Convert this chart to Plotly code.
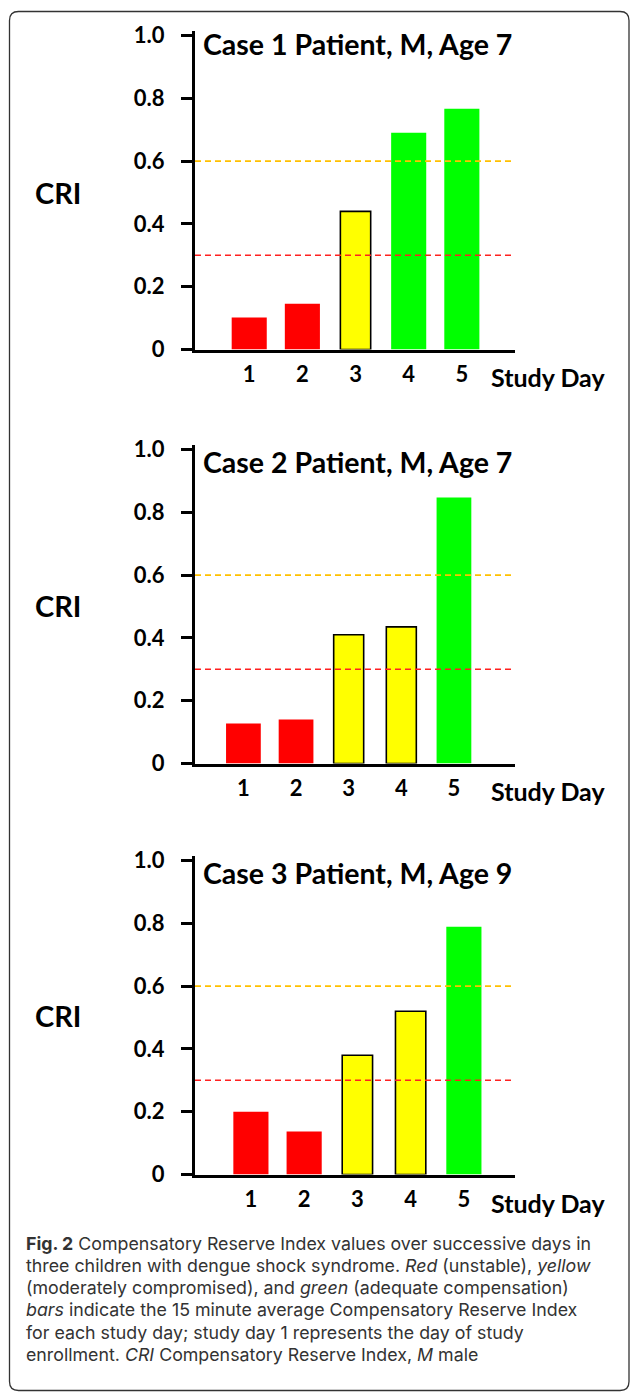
import plotly.graph_objects as go

# ---- data ----
days = [1, 2, 3, 4, 5]
case_titles = ["Case 1 Patient, M, Age 7", "Case 2 Patient, M, Age 7", "Case 3 Patient, M, Age 9"]
case1_cri = [0.102, 0.146, 0.44, 0.69, 0.767]
case2_cri = [0.127, 0.14, 0.41, 0.435, 0.847]
case3_cri = [0.20, 0.137, 0.38, 0.52, 0.789]
red_threshold = 0.3
yellow_threshold = 0.6
y_ticks = [0, 0.2, 0.4, 0.6, 0.8, 1.0]
y_tick_text = ["0", "0.2", "0.4", "0.6", "0.8", "1.0"]

caption_lines = [
    "<b>Fig. 2</b> Compensatory Reserve Index values over successive days in",
    "three children with dengue shock syndrome. <i>Red</i> (unstable), <i>yellow</i>",
    "(moderately compromised), and <i>green</i> (adequate compensation)",
    "<i>bars</i> indicate the 15 minute average Compensatory Reserve Index",
    "for each study day; study day 1 represents the day of study",
    "enrollment. <i>CRI</i> Compensatory Reserve Index, <i>M</i> male",
]

W, H = 630, 1393
def px(x):
    return x / W
def py(y):
    return 1 - y / H

RED, YELLOW, GREEN = "#FF0000", "#FFFF00", "#00FF00"

def color_for(v):
    if v < red_threshold:
        return RED
    if v < yellow_threshold:
        return YELLOW
    return GREEN

fig = go.Figure()

panels = [
    dict(vals=case1_cri, zero=349.5, xr=[-0.02, 6.0], title=case_titles[0], title_y=44, cri_y=193, sd_y=377),
    dict(vals=case2_cri, zero=763.5, xr=[0.08, 6.16], title=case_titles[1], title_y=462, cri_y=605, sd_y=791),
    dict(vals=case3_cri, zero=1174.5, xr=[-0.05, 5.96], title=case_titles[2], title_y=873, cri_y=1015, sd_y=1203),
]

UNIT = 314.0
YMAX = 1.015
tick_font = dict(family="Lato", size=22, color="black", weight="bold")

for i, p in enumerate(panels):
    n = "" if i == 0 else str(i + 1)
    xa = "x" + n
    ya = "y" + n
    vals = p["vals"]
    colors = [color_for(v) for v in vals]
    widths = [0.57 if c == YELLOW else 0.66 for c in colors]
    lcolors = ["black" if c == YELLOW else c for c in colors]
    lwidths = [1.6 if c == YELLOW else 0 for c in colors]
    fig.add_trace(go.Bar(
        x=days, y=vals, xaxis=xa, yaxis=ya,
        width=widths,
        marker=dict(color=colors, line=dict(color=lcolors, width=lwidths)),
        showlegend=False, hoverinfo="x+y",
    ))
    top = p["zero"] - UNIT * YMAX
    fig.layout["xaxis" + n] = dict(
        domain=[px(195), px(515)], anchor=ya, range=p["xr"],
        tickmode="array", tickvals=days, ticktext=[str(d) for d in days],
        showline=True, linecolor="black", linewidth=3, ticks="",
        showgrid=False, zeroline=False, tickfont=tick_font, ticklabelstandoff=3,
        fixedrange=True, automargin=False,
    )
    fig.layout["yaxis" + n] = dict(
        domain=[py(p["zero"]), py(top)], anchor=xa, range=[0, YMAX],
        tickmode="array", tickvals=y_ticks, ticktext=y_tick_text,
        showline=True, linecolor="black", linewidth=3, ticks="outside",
        ticklen=11, tickwidth=3, tickcolor="black",
        showgrid=False, zeroline=False, tickfont=tick_font, ticklabelstandoff=12,
        fixedrange=True, automargin=False,
    )
    # threshold lines
    for thr, col in [(yellow_threshold, "#FFC000"), (red_threshold, "#FF2020")]:
        fig.add_shape(type="line", xref=xa + " domain", yref=ya,
                      x0=0, x1=1, y0=thr, y1=thr, layer="above",
                      line=dict(color=col, width=1.6, dash="6px,4px"))
    # title
    fig.add_annotation(xref="paper", yref="paper", x=px(201), y=py(p["title_y"]),
                       xanchor="left", yanchor="middle", showarrow=False,
                       text=p["title"], font=dict(family="Lato", size=28.5, color="black", weight="bold"))
    fig.add_annotation(xref="paper", yref="paper", x=px(57.5), y=py(p["cri_y"]),
                       xanchor="center", yanchor="middle", showarrow=False,
                       text="CRI", font=dict(family="Lato", size=29, color="black", weight="bold"))
    fig.add_annotation(xref="paper", yref="paper", x=px(489), y=py(p["sd_y"]),
                       xanchor="left", yanchor="middle", showarrow=False,
                       text="Study Day", font=dict(family="Lato", size=25, color="black", weight="bold"))

# caption
for k, line in enumerate(caption_lines):
    fig.add_annotation(xref="paper", yref="paper", x=px(24), y=py(1243 + k * 22.3),
                       xanchor="left", yanchor="middle", showarrow=False,
                       text=line, font=dict(family="Inter", size=17.8, color="#333333"))

# frame with rounded corners
L, T, R, B, r = 9.5, 11.5, 629, 1390.5, 9
path = (f"M {px(L + r)},{py(T)} L {px(R - r)},{py(T)} Q {px(R)},{py(T)} {px(R)},{py(T + r)} "
        f"L {px(R)},{py(B - r)} Q {px(R)},{py(B)} {px(R - r)},{py(B)} "
        f"L {px(L + r)},{py(B)} Q {px(L)},{py(B)} {px(L)},{py(B - r)} "
        f"L {px(L)},{py(T + r)} Q {px(L)},{py(T)} {px(L + r)},{py(T)} Z")
fig.add_shape(type="path", xref="paper", yref="paper", path=path,
              line=dict(color="#333333", width=1.3), layer="below")

fig.update_layout(
    width=W, height=H, margin=dict(l=0, r=0, t=0, b=0, pad=0, autoexpand=False),
    paper_bgcolor="white", plot_bgcolor="white",
    bargap=0.3,
)

fig.write_html("out.html", config={"displayModeBar": False},
               post_script="document.body.style.margin='0';document.body.style.overflow='hidden';")
